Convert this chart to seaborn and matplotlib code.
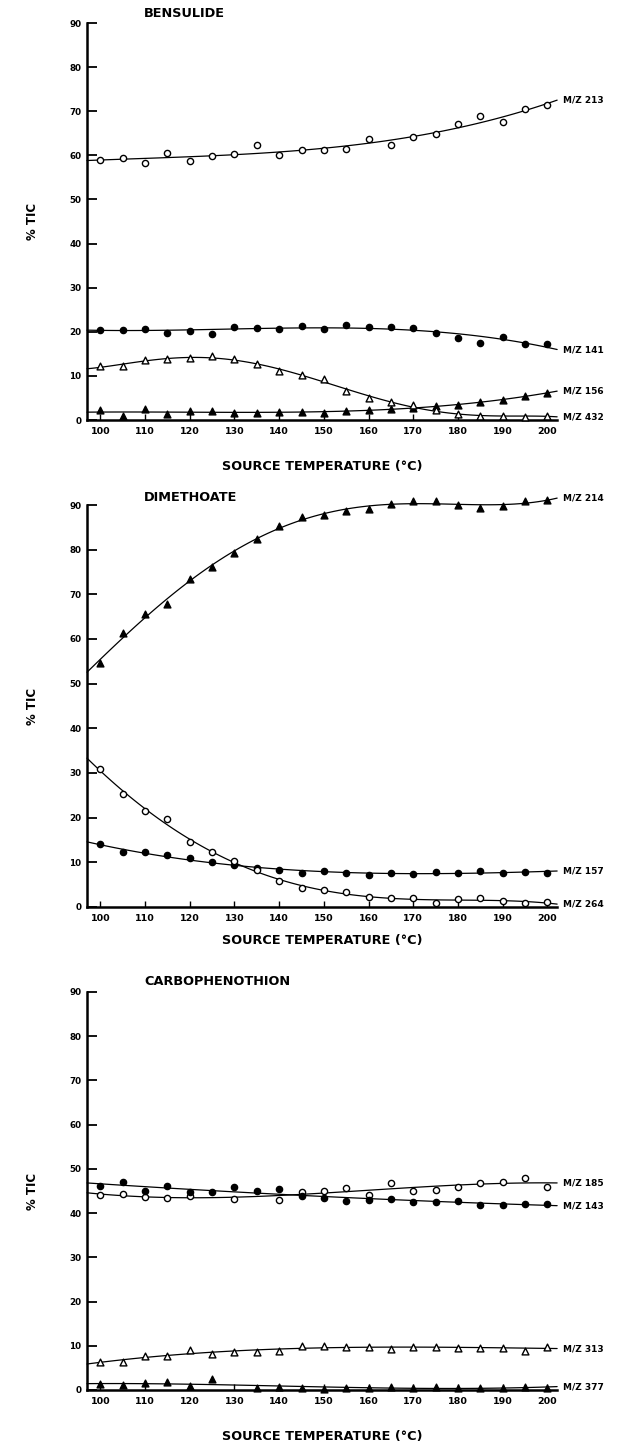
import numpy as np
import pandas as pd
import matplotlib
matplotlib.use("Agg")
import matplotlib.pyplot as plt
import seaborn as sns

# Source temperatures (deg C)
temps = [100, 105, 110, 115, 120, 125, 130, 135, 140, 145, 150,
         155, 160, 165, 170, 175, 180, 185, 190, 195, 200]

# Bensulide, % TIC
bens_mz213 = [59.0, 59.5, 58.2, 60.5, 58.8, 59.9, 60.2, 62.3, 60.0, 61.3, 61.3,
              61.4, 63.7, 62.3, 64.1, 64.8, 67.0, 68.9, 67.5, 70.6, 71.4]
bens_mz141 = [20.5, 20.5, 20.7, 19.8, 20.2, 19.6, 21.0, 20.8, 20.7, 21.3, 20.6,
              21.6, 21.1, 21.1, 20.9, 19.8, 18.7, 17.5, 18.9, 17.2, 17.2]
bens_mz156 = [2.2, 1.0, 2.4, 1.3, 2.1, 2.1, 1.5, 1.7, 1.9, 1.9, 1.7,
              2.0, 2.2, 2.4, 2.8, 3.2, 3.5, 4.0, 4.6, 5.5, 6.1]
bens_mz432 = [12.2, 12.2, 13.6, 13.9, 14.0, 14.5, 13.8, 12.6, 11.2, 10.2, 9.2,
              6.7, 4.9, 4.1, 3.5, 2.2, 1.3, 0.9, 0.9, 0.7, 1.0]

# Dimethoate, % TIC
dim_mz214 = [54.7, 61.3, 65.6, 67.8, 73.4, 76.2, 79.3, 82.5, 85.3, 87.4, 87.7,
             88.6, 89.2, 90.3, 91.0, 90.8, 90.1, 89.3, 89.8, 90.8, 91.1]
dim_mz157 = [14.0, 12.2, 12.2, 11.6, 11.0, 10.1, 9.3, 8.8, 8.3, 7.7, 8.1,
             7.5, 7.2, 7.5, 7.4, 7.8, 7.7, 8.1, 7.6, 7.8, 7.7]
dim_mz264 = [30.8, 25.4, 21.6, 19.6, 14.5, 12.2, 10.3, 8.3, 5.8, 4.2, 3.7,
             3.4, 2.2, 1.9, 2.0, 1.0, 1.8, 1.9, 1.3, 0.8, 1.1]

# Carbophenothion, % TIC (NaN = no reading)
carb_mz185 = [44.0, 44.3, 43.6, 43.5, 43.9, np.nan, 43.2, np.nan, 43.0, 44.7, 44.9,
              45.7, 44.1, 46.9, 45.1, 45.3, 45.9, 46.8, 47.0, 47.9, 46.0]
carb_mz143 = [46.2, 47.0, 45.0, 46.2, 44.7, 44.8, 45.8, 44.9, 45.5, 43.8, 43.4,
              42.8, 42.9, 43.2, 42.6, 42.4, 42.8, 41.9, 41.9, 42.1, 42.1]
carb_mz313 = [6.4, 6.4, 7.7, 7.6, 9.0, 8.1, 8.7, 8.7, 8.8, 9.9, 9.9,
              9.8, 9.8, 9.2, 9.8, 9.8, 9.6, 9.6, 9.6, 8.9, 9.8]
carb_mz377 = [1.3, 1.1, 1.6, 1.8, 1.0, 2.4, np.nan, 0.5, 0.7, 0.5, 0.3,
              0.5, 0.4, 0.7, 0.4, 0.7, 0.5, 0.4, 0.4, 0.7, 0.4]

y_ticks = [0, 10, 20, 30, 40, 50, 60, 70, 80, 90]
x_ticks = [100, 110, 120, 130, 140, 150, 160, 170, 180, 190, 200]

sns.set_style("ticks")
plt.rcParams["font.family"] = ["DejaVu Sans"]
plt.rcParams["font.weight"] = "bold"
for key in ("text.color", "axes.labelcolor", "xtick.color", "ytick.color",
            "axes.edgecolor"):
    plt.rcParams[key] = "black"

fig = plt.figure(figsize=(6.26, 14.47), dpi=100)
fig.patch.set_facecolor("white")

XLIM = (97.0, 202.2)

# (title, series list, axes rect, xlabel pad, title offset)
panels = [
    ("BENSULIDE",
     [("M/Z 213", bens_mz213, "o", "white", 3),
      ("M/Z 141", bens_mz141, "o", "black", 3),
      ("M/Z 156", bens_mz156, "^", "black", 3),
      ("M/Z 432", bens_mz432, "^", "white", 5)],
     [0.139, 0.7097, 0.751, 0.2744], 17, 2),
    ("DIMETHOATE",
     [("M/Z 214", dim_mz214, "^", "black", 4),
      ("M/Z 157", dim_mz157, "o", "black", 3),
      ("M/Z 264", dim_mz264, "o", "white", 4)],
     [0.139, 0.3732, 0.751, 0.2778], 8, 1),
    ("CARBOPHENOTHION",
     [("M/Z 185", carb_mz185, "o", "white", 3),
      ("M/Z 143", carb_mz143, "o", "black", 2),
      ("M/Z 313", carb_mz313, "^", "white", 3),
      ("M/Z 377", carb_mz377, "^", "black", 3)],
     [0.139, 0.0394, 0.751, 0.2751], 17, 3),
]

for title, series, rect, xpad, tpad in panels:
    ax = fig.add_axes(rect)
    ax.set_xlim(*XLIM)
    ax.set_ylim(0, 90)
    for label, vals, marker, face, order in series:
        df = pd.DataFrame({"temp": temps, "tic": vals})
        sns.regplot(data=df, x="temp", y="tic", ax=ax, order=order, ci=None,
                    truncate=False, color="black", marker=marker,
                    scatter_kws={"s": 20 if marker == "o" else 24,
                                 "facecolors": face, "edgecolors": "black",
                                 "linewidths": 1.0, "alpha": 1, "zorder": 3,
                                 "clip_on": False},
                    line_kws={"lw": 0.9, "color": "black", "zorder": 2,
                              "clip_on": False})
        clean = df.dropna()
        coef = np.polyfit(clean["temp"], clean["tic"], order)
        y_end = np.polyval(coef, XLIM[1])
        ax.annotate(label, xy=(1, y_end), xycoords=("axes fraction", "data"),
                    xytext=(4, 0), textcoords="offset points",
                    ha="left", va="center", fontsize=6.5, fontweight="bold",
                    annotation_clip=False)
    ax.set_xlim(*XLIM)
    ax.set_ylim(0, 90)
    ax.set_xticks(x_ticks)
    ax.set_yticks(y_ticks)
    ax.tick_params(axis="y", direction="in", length=7, width=1.3,
                   labelsize=6.3, pad=4)
    ax.tick_params(axis="x", direction="in", length=4, width=1.0,
                   labelsize=6.8, pad=5)
    for t in ax.get_xticklabels() + ax.get_yticklabels():
        t.set_fontweight("bold")
    for side in ("top", "right"):
        ax.spines[side].set_visible(False)
    for side in ("left", "bottom"):
        ax.spines[side].set_linewidth(1.8)
    ax.set_xlabel("SOURCE TEMPERATURE (\u00b0C)", fontsize=9.3,
                  fontweight="bold", labelpad=xpad)
    ax.set_ylabel("% TIC", fontsize=8.5, fontweight="bold", labelpad=22)
    ax.annotate(title, xy=(0.121, 1), xycoords="axes fraction",
                xytext=(0, tpad), textcoords="offset points",
                ha="left", va="bottom", fontsize=9.3, fontweight="bold")

fig.savefig("out.png", dpi=100, facecolor="white")
